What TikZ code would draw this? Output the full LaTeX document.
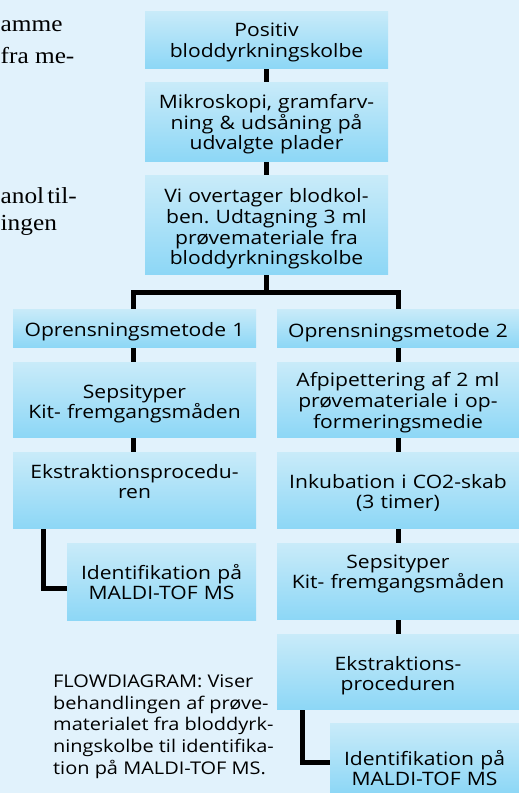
\documentclass[tikz,border=0pt]{standalone}
\usepackage{fontspec}
\setmainfont{Open Sans}[FakeStretch=1.14]
\newfontfamily\serifside{Liberation Serif}[FakeStretch=1.1]
\definecolor{bg}{HTML}{E1F2FC}
\definecolor{boxtop}{HTML}{C9EBF9}
\definecolor{boxbot}{HTML}{8DD7F6}
\tikzset{
  box/.style={rectangle, top color=boxtop, bottom color=boxbot, draw=none, inner sep=0pt},
  txt/.style={align=center, anchor=base, inner sep=0pt, text width=#1, font=\fontsize{18.5}{20.7}\selectfont\frenchspacing},
  txt/.default=242pt,
  captxt/.style={align=left, anchor=west, inner sep=0pt, font=\fontsize{17.5}{21.7}\selectfont\frenchspacing},
  side/.style={anchor=base west, inner sep=0pt, font=\serifside\fontsize{23}{28}\selectfont},
  conn/.style={line width=5pt, black, line join=miter},
}
\begin{document}
\frenchspacing
\begin{tikzpicture}[x=1pt,y=-1pt]
\fill[bg] (0,0) rectangle (519,793);
\useasboundingbox (0,0) rectangle (519,793);

% serif text at top left
\node[side] (s1) at (0.5,31) {amme};
\node[side] (s2) at (0.5,63) {fra me-};
\node[side] (s3) at (0.5,203) {anol\hspace{3pt}til-};
\node[side] (s4) at (0.5,230) {ingen};

% connectors (drawn first)
\coordinate (t1) at (266.5,68);
\coordinate (t2) at (266.5,82);
\coordinate (t3) at (266.5,161);
\coordinate (t4) at (266.5,175);
\coordinate (t5) at (266.5,274);
\coordinate (sp) at (266.5,292);
\coordinate (lsp) at (133,292);
\coordinate (rsp) at (398,292);
\coordinate (l1t) at (133,309);
\coordinate (r1t) at (398,309);
\draw[conn] (t1) -- (t2);
\draw[conn] (t3) -- (t4);
\draw[conn] (t5) -- (sp);
\draw[conn] (l1t) -- (lsp) -- (rsp) -- (r1t);
% left column
\coordinate (la) at (133,347); \coordinate (lb) at (133,362);
\coordinate (lc) at (133,437); \coordinate (ld) at (133,452);
\draw[conn] (la) -- (lb);
\draw[conn] (lc) -- (ld);
\coordinate (le) at (43,528); \coordinate (lf) at (43,588); \coordinate (lg) at (68,588);
\draw[conn] (le) -- (lf) -- (lg);
% right column
\coordinate (ra) at (398,347); \coordinate (rb) at (398,362);
\coordinate (rc) at (398,437); \coordinate (rd) at (398,452);
\coordinate (re) at (398,528); \coordinate (rf) at (398,543);
\coordinate (rg) at (398,619); \coordinate (rh) at (398,634);
\draw[conn] (ra) -- (rb);
\draw[conn] (rc) -- (rd);
\draw[conn] (re) -- (rf);
\draw[conn] (rg) -- (rh);
\coordinate (ri) at (302,709); \coordinate (rj) at (302,762); \coordinate (rk) at (331,762);
\draw[conn] (ri) -- (rj) -- (rk);

% boxes
\path[box] (145,11) rectangle (388,68);
\node[txt] (b1) at (266.5,36.7) {Positiv\\bloddyrkningskolbe};
\path[box] (145,82) rectangle (388,161);
\node[txt] (b2) at (266.5,108.3) {Mikroskopi, gramfarv-\\ning \& udsåning på\\udvalgte plader};
\path[box] (145,175) rectangle (388,274);
\node[txt] (b3) at (266.5,202.7) {Vi overtager blodkol-\\ben. Udtagning 3 ml\\prøvemateriale fra\\bloddyrkningskolbe};

\path[box] (13,309) rectangle (256,347);
\node[txt] (l1) at (134.5,336.7) {Oprensningsmetode 1};
\path[box] (13,362) rectangle (256,437);
\node[txt] (l2) at (134.5,398) {Sepsityper\\Kit- fremgangsmåden};
\path[box] (13,452) rectangle (256,528);
\node[txt] (l3) at (134.5,478) {Ekstraktionsprocedu-\\ren};
\path[box] (67,543) rectangle (256,620);
\node[txt=189pt] (l4) at (161.5,579) {Identifikation på\\MALDI-TOF MS};

\path[box] (277,309) rectangle (519,347);
\node[txt] (r1) at (398,337) {Oprensningsmetode 2};
\path[box] (277,362) rectangle (519,437);
\node[txt] (r2) at (398,386.7) {Afpipettering af 2 ml\\prøvemateriale i op-\\formeringsmedie};
\path[box] (277,452) rectangle (519,528);
\node[txt] (r3) at (398,488) {Inkubation i CO2-skab\\(3 timer)};
\path[box] (277,543) rectangle (519,619);
\node[txt] (r4) at (398,568) {Sepsityper\\Kit- fremgangsmåden};
\path[box] (277,634) rectangle (519,709);
\node[txt] (r5) at (398,670) {Ekstraktions-\\proceduren};
\path[box] (330,723) rectangle (519,793);
\node[txt=189pt] (r6) at (424.5,765) {Identifikation på\\MALDI-TOF MS};

% caption
\node[captxt] (caption) at (53,726.5) {FLOWDIAGRAM: Viser\\behandlingen af prøve-\\materialet fra bloddyrk-\\ningskolbe til identifika-\\tion på MALDI-TOF MS.};
\end{tikzpicture}
\end{document}
